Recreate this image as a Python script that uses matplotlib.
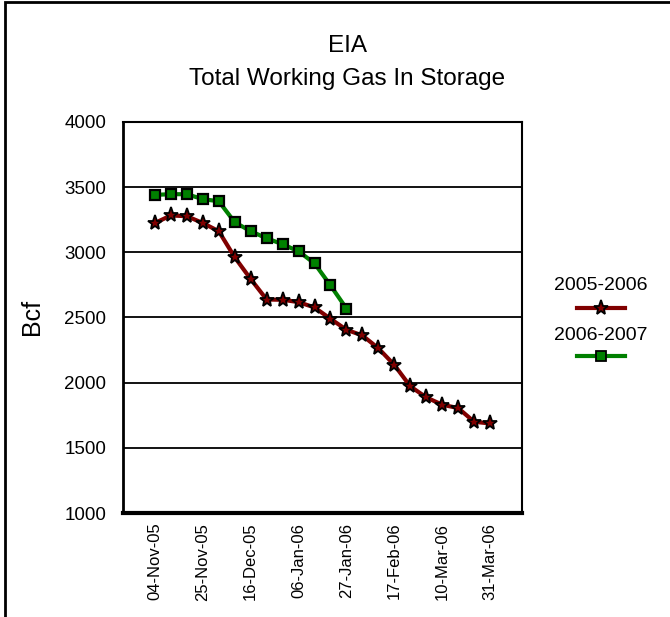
import matplotlib.pyplot as plt
from matplotlib.patches import Rectangle
from matplotlib.lines import Line2D

plt.rcParams['font.family'] = ['Liberation Sans', 'DejaVu Sans']

# weekly dates, Nov-05 .. Mar-06
weeks = ['04-Nov-05', '11-Nov-05', '18-Nov-05', '25-Nov-05', '02-Dec-05', '09-Dec-05',
         '16-Dec-05', '23-Dec-05', '30-Dec-05', '06-Jan-06', '13-Jan-06', '20-Jan-06',
         '27-Jan-06', '03-Feb-06', '10-Feb-06', '17-Feb-06', '24-Feb-06', '03-Mar-06',
         '10-Mar-06', '17-Mar-06', '24-Mar-06', '31-Mar-06']
gas_0506 = [3225, 3283, 3277, 3225, 3162, 2962, 2795, 2638, 2636, 2618, 2577, 2490,
            2406, 2362, 2264, 2136, 1972, 1887, 1831, 1805, 1700, 1687]
gas_0607 = [3441, 3446, 3446, 3408, 3392, 3231, 3162, 3108, 3062, 3008, 2915, 2746, 2569]
series_names = ['2005-2006', '2006-2007']

RED = '#800000'
GREEN = '#008000'
W, H = 670, 617

fig = plt.figure(figsize=(6.7, 6.17), dpi=100)
ax = fig.add_axes([123 / W, 1 - 513 / H, 399 / W, 391 / H])

x1 = list(range(len(gas_0506)))
x2 = list(range(len(gas_0607)))
ax.plot(x1, gas_0506, color=RED, lw=3, marker='*', ms=11,
        mfc=RED, mec='black', mew=1.3, zorder=3)
ax.plot(x2, gas_0607, color=GREEN, lw=3, marker='s', ms=7,
        mfc=GREEN, mec='black', mew=1.6, zorder=4)

# date axis runs from 21-Oct-05 to 14-Apr-06
ax.set_xlim(-2, 23)
ax.set_ylim(1000, 4000)
ax.set_yticks(range(1000, 4001, 500))
ax.set_xticks(x1[::3])
ax.set_xticklabels(weeks[::3], rotation=90, fontsize=12)
ax.tick_params(axis='y', length=0, labelsize=13.5, pad=12)
ax.tick_params(axis='x', length=0, pad=7)
ax.grid(axis='y', color='black', lw=1.3)
ax.set_axisbelow(True)
ax.spines['top'].set_linewidth(1.5)
ax.spines['right'].set_linewidth(1.5)
ax.spines['left'].set_linewidth(2)
ax.spines['bottom'].set_linewidth(3)

fig.text(32 / W, 1 - 317 / H, 'Bcf', rotation=90, ha='center', va='center', fontsize=18)
fig.text(347 / W, 1 - 52 / H, 'EIA', ha='center', va='baseline', fontsize=17.5)
fig.text(347 / W, 1 - 85 / H, 'Total Working Gas In Storage', ha='center',
         va='baseline', fontsize=17.5)

# legend drawn by hand: name above sample line
leg_x = 601 / W
for name, col, mk, ms, ty, ly in [(series_names[0], RED, '*', 11, 285, 308),
                                  (series_names[1], GREEN, 's', 7, 336, 356)]:
    fig.text(leg_x, 1 - ty / H, name, ha='center', va='center', fontsize=14)
    yy = 1 - ly / H
    fig.add_artist(Line2D([577 / W, 625 / W], [yy, yy], color=col, lw=3,
                          transform=fig.transFigure))
    fig.add_artist(Line2D([leg_x], [yy], color=col, marker=mk, ms=ms, mfc=col,
                          mec='black', mew=1.3, transform=fig.transFigure))

fig.add_artist(Rectangle((5 / W, -0.1), 1.2, 1.1 - 2 / H, fill=False,
                         edgecolor='black', lw=2, transform=fig.transFigure))

fig.savefig('out.png', dpi=100)
